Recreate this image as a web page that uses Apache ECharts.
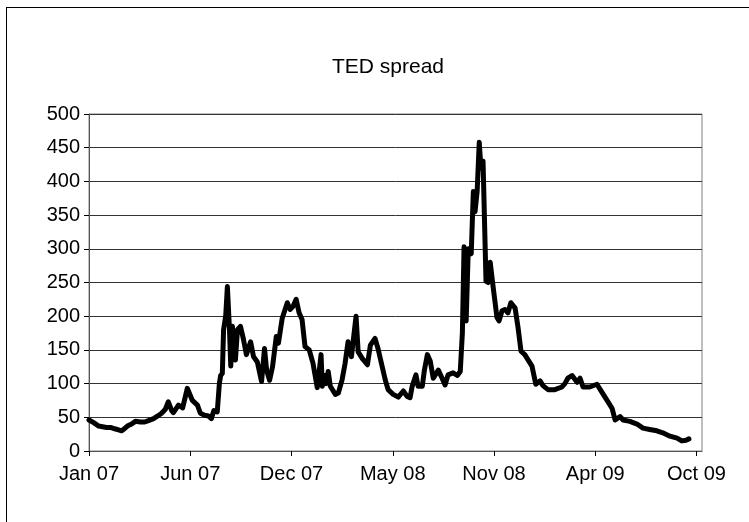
<!DOCTYPE html>
<html>
<head>
<meta charset="utf-8">
<script src="https://cdn.jsdelivr.net/npm/echarts@6/dist/echarts.min.js"></script>
<style>
  html, body { margin: 0; padding: 0; background: #fff; }
  #wrap { position: relative; width: 749px; height: 522px; overflow: hidden; }
  #frame { position: absolute; left: 6px; top: 7px; width: 900px; height: 700px; border-left: 1px solid #000; border-top: 1px solid #000; }
  #chart { position: absolute; left: 0; top: 0; width: 749px; height: 522px; }
</style>
</head>
<body>
<div id="wrap">
  <div id="frame"></div>
  <div id="chart"></div>
</div>
<script>
// Time in weeks since the first week of January 2007
const weeks = [
  0, 1.1, 2.3, 3.2, 4.2, 5.1, 6.1, 7.2, 7.7, 8.2, 9.1, 10.1, 11.0, 12.2, 13.2, 14.1, 15.3, 16.3, 17.2, 18.1,
  18.8, 19.6, 20.0, 21.2, 22.2, 23.3, 24.5, 25.7, 26.4, 27.4, 28.3, 29.0, 29.6, 30.0, 30.4, 30.9, 31.2, 31.6, 31.9, 32.4,
  32.8, 33.3, 33.6, 34.0, 34.4, 34.7, 35.2, 35.9, 36.6, 37.3, 38.3, 39.0, 39.9, 40.9, 41.6, 42.1, 42.8, 43.5, 44.4, 44.9,
  45.8, 47.0, 47.7, 48.4, 49.1, 49.8, 50.5, 51.2, 52.2, 53.1, 54.1, 54.6, 55.0, 55.3, 55.8, 56.2, 56.7, 57.2, 57.6, 58.4,
  59.1, 60.0, 60.7, 61.4, 62.2, 62.6, 63.3, 63.8, 64.8, 66.0, 66.7, 67.8, 68.5, 69.5, 70.2, 70.9, 72.1, 73.3, 74.5, 75.4,
  76.1, 76.6, 77.5, 78.0, 79.0, 79.5, 80.2, 80.9, 81.6, 82.8, 83.7, 84.4, 85.1, 86.3, 87.3, 88.0, 88.5, 88.9, 89.4, 89.9,
  90.6, 91.1, 91.5, 92.0, 92.5, 92.9, 93.4, 94.1, 94.6, 95.1, 95.8, 96.7, 97.2, 97.9, 98.6, 99.3, 100.0, 101.0, 101.7, 102.4,
  103.3, 104.0, 105.0, 105.9, 106.9, 107.6, 108.8, 110.4, 112.1, 112.8, 113.5, 114.5, 115.7, 116.4, 117.1, 118.7, 120.4, 121.6, 122.8, 124.0,
  124.7, 125.9, 126.6, 128.2, 129.9, 131.3, 132.9, 134.6, 136.0, 137.7, 139.4, 140.5, 141.5, 142.2
];
// TED spread, basis points
const spread = [
  46, 42, 37, 36, 35, 35, 33, 31, 30, 32, 37, 40, 44, 43, 43, 45, 48, 52, 56, 62,
  73, 60, 57, 68, 64, 93, 75, 68, 56, 53, 52, 48, 60, 62, 58, 100, 112, 115, 180, 200,
  244, 180, 126, 185, 140, 135, 180, 185, 166, 143, 162, 140, 132, 103, 152, 120, 105, 125, 170, 160,
  197, 220, 210, 215, 225, 205, 195, 155, 150, 130, 94, 120, 143, 96, 112, 100, 118, 96, 96, 84,
  86, 106, 130, 162, 140, 162, 200, 147, 137, 128, 157, 167, 152, 125, 106, 91, 84, 80, 89, 81,
  79, 96, 113, 96, 96, 120, 143, 133, 108, 120, 108, 98, 113, 116, 112, 118, 175, 303, 193, 300,
  293, 385, 355, 385, 458, 420, 430, 252, 250, 280, 243, 198, 193, 208, 210, 205, 220, 212, 183, 148,
  143, 136, 126, 99, 104, 97, 91, 91, 95, 100, 108, 112, 102, 108, 95, 95, 99, 87, 75, 63,
  46, 51, 46, 44, 40, 34, 32, 30, 27, 22, 19, 15, 16, 18
];
const tickWeeks = [0, 24, 48, 72, 96, 120, 144];
const tickLabels = ['Jan 07', 'Jun 07', 'Dec 07', 'May 08', 'Nov 08', 'Apr 09', 'Oct 09'];

const data = weeks.map((w, i) => [w, spread[i]]);
const font = 'Liberation Sans, Arial, sans-serif';

const chart = echarts.init(document.getElementById('chart'), null, { renderer: 'canvas' });
chart.setOption({
  animation: false,
  backgroundColor: 'transparent',
  title: {
    text: 'TED spread',
    left: 388,
    top: 57,
    padding: 0,
    textAlign: 'center',
    textVerticalAlign: 'top',
    textStyle: { fontFamily: font, fontSize: 21, fontWeight: 'normal', color: '#000' }
  },
  grid: {
    left: 89, top: 114, right: 47, bottom: 71,
    show: true, borderColor: '#808080', borderWidth: 1, backgroundColor: 'transparent'
  },
  xAxis: {
    type: 'value',
    min: 0,
    max: 145.3,
    interval: 24,
    splitLine: { show: false },
    axisLine: { show: true, lineStyle: { color: '#555', width: 1 } },
    axisTick: { show: true, length: 5, customValues: tickWeeks, lineStyle: { color: '#000' } },
    axisLabel: {
      customValues: tickWeeks,
      margin: 13,
      color: '#000', fontFamily: font, fontSize: 20,
      formatter: v => tickLabels[tickWeeks.indexOf(Math.round(v))] || ''
    }
  },
  yAxis: {
    type: 'value',
    min: 0, max: 500, interval: 50,
    axisLine: { show: true, lineStyle: { color: '#555', width: 1 } },
    axisTick: { show: true, length: 5, lineStyle: { color: '#000' } },
    splitLine: { show: true, lineStyle: { color: '#333', width: 1 } },
    axisLabel: { margin: 9, color: '#000', fontFamily: font, fontSize: 20 }
  },
  series: [{
    type: 'line',
    data: data,
    showSymbol: false,
    symbol: 'none',
    smooth: false,
    lineStyle: { color: '#000', width: 5, join: 'round', cap: 'round' }
  }]
});
</script>
</body>
</html>
